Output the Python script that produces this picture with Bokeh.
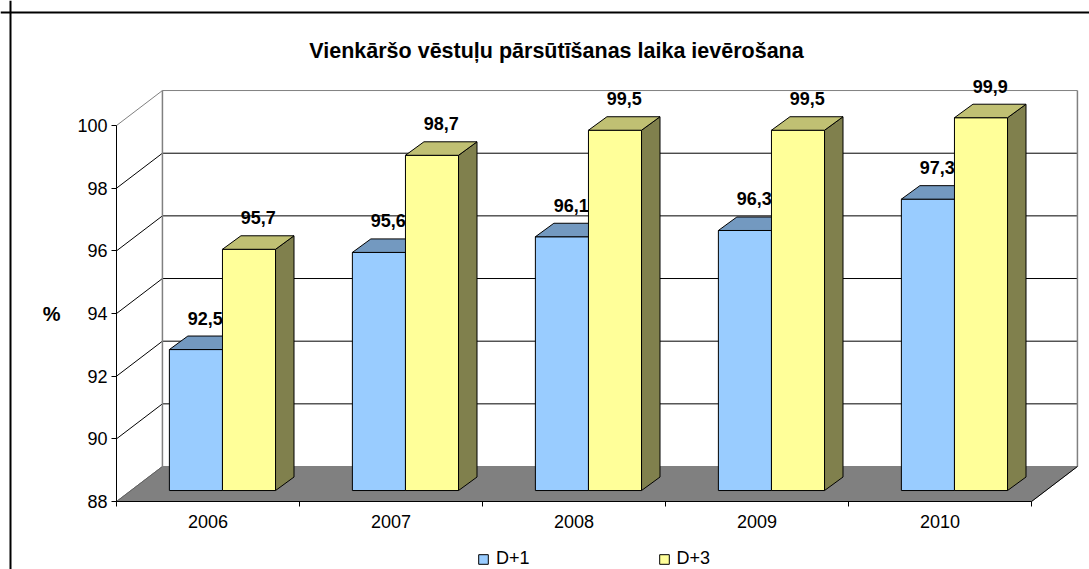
from bokeh.plotting import figure
from bokeh.models import FixedTicker, Legend, LegendItem, Range1d, Span, Label
from bokeh.embed import file_html
from bokeh.resources import INLINE
from bokeh.core.properties import value

# ---- data ----
years = ["2006", "2007", "2008", "2009", "2010"]
d1 = [92.5, 95.6, 96.1, 96.3, 97.3]
d3 = [95.7, 98.7, 99.5, 99.5, 99.9]
series_names = ["D+1", "D+3"]
y_ticks = [88, 90, 92, 94, 96, 98, 100]
title_text = "Vienkāršo vēstuļu pārsūtīšanas laika ievērošana"

# ---- layout (pixels) ----
W, H = 1089, 569
SX, SY = 183.0, 31.33          # pixels per data unit
AX_PX, AX_PY = 116, 501        # where x=0 / y=88 sit on the canvas
Y0, YTOP = 88.0, 100.0
N = len(years)
X_START = -AX_PX / SX
Y_END = Y0 + AX_PY / SY


def px2x(px):
    return X_START + px / SX


def py2y(py):
    return Y_END - py / SY


# ---- 3D geometry (data units) ----
WALL_DX, WALL_DY = 0.251, 1.117
BAR_DX, BAR_DY = 0.079, 0.35
DEP_DX, DEP_DY = 0.101, 0.431
BAR_OFF = [0.21, 0.50]
BAR_W = 0.29

FONT = "Liberation Sans"

p = figure(width=W, height=H, output_backend="svg", toolbar_location=None,
           x_range=Range1d(X_START, px2x(W)), y_range=Range1d(py2y(H), Y_END),
           min_border=0, min_border_left=0, min_border_right=0,
           min_border_top=0, min_border_bottom=0)
p.title.text = ""
p.title.visible = False
p.outline_line_color = None
p.xgrid.visible = False
p.ygrid.visible = False
p.background_fill_color = "white"
p.border_fill_color = "white"

# outer chart border (top and left edges)
p.add_layout(Span(location=py2y(12), dimension="width", line_color="black", line_width=2))
p.add_layout(Span(location=px2x(10), dimension="height", line_color="black", line_width=2))

# title
p.add_layout(Label(x=px2x(556), y=py2y(50), text=title_text, text_font=FONT,
                   text_font_size="21.5px", text_font_style="bold", text_color="black",
                   text_align="center", text_baseline="alphabetic"))

# floor
p.patch([0, N, N + WALL_DX, WALL_DX], [Y0, Y0, Y0 + WALL_DY, Y0 + WALL_DY],
        fill_color="#808080", line_color="#808080", line_width=1)
# back wall gridlines and left wall lines
for t in y_ticks[1:]:
    col = "#808080" if t == YTOP else "black"
    p.segment(x0=[WALL_DX], y0=[t + WALL_DY], x1=[N + WALL_DX], y1=[t + WALL_DY],
              line_color=col, line_width=1)
    p.segment(x0=[0], y0=[t], x1=[WALL_DX], y1=[t + WALL_DY], line_color=col, line_width=1)
p.segment(x0=[0], y0=[Y0], x1=[WALL_DX], y1=[Y0 + WALL_DY], line_color="#606060", line_width=1)
p.segment(x0=[WALL_DX, N + WALL_DX], y0=[Y0 + WALL_DY] * 2,
          x1=[WALL_DX, N + WALL_DX], y1=[YTOP + WALL_DY] * 2,
          line_color="#808080", line_width=1.5)
p.segment(x0=[N], y0=[Y0], x1=[N + WALL_DX], y1=[Y0 + WALL_DY], line_color="black", line_width=1)

# bars
front_cols = ["#99CCFF", "#FFFF99"]
top_cols = ["#7399C0", "#C0C073"]
side_cols = ["#4D6680", "#80804D"]
legend_items = []
for s, vals in enumerate([d1, d3]):
    lefts = [i + BAR_OFF[s] + BAR_DX for i in range(N)]
    rights = [l + BAR_W for l in lefts]
    tops = [v + BAR_DY for v in vals]
    bot = Y0 + BAR_DY
    side_xs = [[r, r, r + DEP_DX, r + DEP_DX] for r in rights]
    side_ys = [[bot, t, t + DEP_DY, bot + DEP_DY] for t in tops]
    p.patches(side_xs, side_ys, fill_color=side_cols[s], line_color="black", line_width=1)
    fr = p.quad(left=lefts, right=rights, bottom=[bot] * N, top=tops,
                fill_color=front_cols[s], line_color="black", line_width=1)
    top_xs = [[l, r, r + DEP_DX, l + DEP_DX] for l, r in zip(lefts, rights)]
    top_ys = [[t, t, t + DEP_DY, t + DEP_DY] for t in tops]
    p.patches(top_xs, top_ys, fill_color=top_cols[s], line_color="black", line_width=1)
    legend_items.append(LegendItem(label=series_names[s], renderers=[fr]))
    p.text(x=[(l + r) / 2 + DEP_DX / 2 for l, r in zip(lefts, rights)],
           y=[t + DEP_DY for t in tops],
           text=[f"{v:.1f}".replace(".", ",") for v in vals],
           text_font=value(FONT), text_font_style="bold", text_font_size="18px",
           text_align="center", text_baseline="alphabetic", y_offset=-18,
           text_color="black")

# y axis (front left edge)
ya = p.yaxis[0]
ya.fixed_location = 0
ya.ticker = FixedTicker(ticks=y_ticks, minor_ticks=[])
ya.bounds = (Y0, YTOP)
ya.major_tick_out = 5
ya.major_tick_in = 0
ya.minor_tick_line_color = None
ya.major_label_text_font = FONT
ya.major_label_text_font_size = "18px"
ya.major_label_text_color = "black"
ya.major_label_standoff = 4
ya.axis_line_color = "black"
ya.axis_label = "%"
ya.axis_label_orientation = "horizontal"
ya.axis_label_text_font = FONT
ya.axis_label_text_font_size = "20px"
ya.axis_label_text_font_style = "bold"
ya.axis_label_text_color = "black"
ya.axis_label_standoff = 14

# x axis (front floor edge)
xa = p.xaxis[0]
xa.fixed_location = Y0
centers = [i + 0.5 for i in range(N)]
xa.ticker = FixedTicker(ticks=centers, minor_ticks=list(range(N + 1)))
xa.major_label_overrides = {c: y for c, y in zip(centers, years)}
xa.bounds = (0, N)
xa.major_tick_out = 0
xa.major_tick_in = 0
xa.minor_tick_out = 5
xa.minor_tick_in = 0
xa.minor_tick_line_color = "black"
xa.major_label_text_font = FONT
xa.major_label_text_font_size = "18px"
xa.major_label_text_color = "black"
xa.major_label_standoff = 8
xa.axis_line_color = "black"

legend = Legend(items=legend_items, orientation="horizontal", location=(477, 0),
                glyph_width=12, glyph_height=12, label_standoff=7, spacing=128,
                label_height=14, label_text_font=FONT, label_text_font_size="18px",
                label_text_color="black",
                border_line_color=None, background_fill_alpha=0,
                padding=0, margin=0)
p.add_layout(legend)

open("out.html", "w").write(file_html(p, INLINE))
